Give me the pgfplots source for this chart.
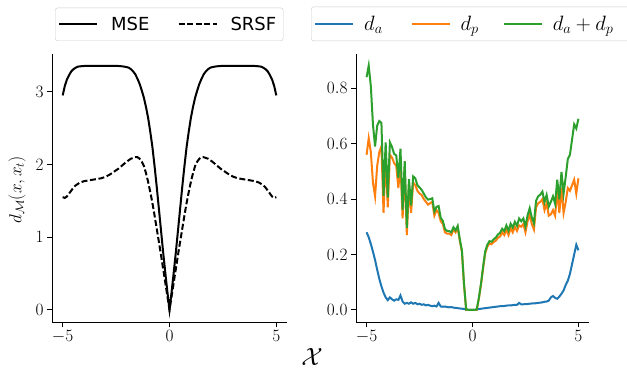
\documentclass[border=0pt]{standalone}
\usepackage{pgfplots}
\pgfplotsset{compat=1.18}
\usepackage{pgfplotstable}
\usepackage{fontspec}
\newfontfamily\dejavu{DejaVu Sans}
\definecolor{tabblue}{HTML}{1F77B4}
\definecolor{taborange}{HTML}{FF7F0E}
\definecolor{tabgreen}{HTML}{2CA02C}

\pgfplotstableread{
x da dp ds
-5.0 0.280 0.560 0.840
-4.9 0.262 0.620 0.882
-4.8 0.238 0.570 0.808
-4.7 0.210 0.460 0.670
-4.6 0.180 0.410 0.590
-4.5 0.145 0.520 0.665
-4.4 0.112 0.570 0.682
-4.3 0.085 0.590 0.675
-4.2 0.062 0.350 0.412
-4.1 0.045 0.560 0.605
-4.0 0.035 0.370 0.405
-3.9 0.045 0.560 0.605
-3.8 0.038 0.550 0.588
-3.7 0.033 0.530 0.563
-3.6 0.038 0.520 0.558
-3.5 0.036 0.440 0.476
-3.4 0.052 0.530 0.582
-3.3 0.030 0.330 0.360
-3.2 0.022 0.515 0.537
-3.1 0.025 0.270 0.295
-3.0 0.022 0.450 0.472
-2.9 0.027 0.350 0.377
-2.8 0.022 0.460 0.482
-2.7 0.025 0.450 0.475
-2.6 0.020 0.430 0.450
-2.5 0.022 0.420 0.442
-2.4 0.018 0.415 0.433
-2.3 0.020 0.400 0.420
-2.2 0.016 0.390 0.406
-2.1 0.018 0.380 0.398
-2.0 0.015 0.385 0.400
-1.9 0.013 0.390 0.403
-1.8 0.015 0.340 0.355
-1.7 0.012 0.360 0.372
-1.6 0.025 0.350 0.375
-1.5 0.012 0.320 0.332
-1.4 0.011 0.310 0.321
-1.3 0.012 0.280 0.292
-1.2 0.010 0.275 0.285
-1.1 0.009 0.275 0.284
-1.0 0.010 0.270 0.280
-0.9 0.008 0.290 0.298
-0.8 0.007 0.280 0.287
-0.7 0.006 0.297 0.303
-0.6 0.005 0.250 0.255
-0.5 0.004 0.210 0.214
-0.4 0.003 0.090 0.093
-0.3 0.001 0.000 0.001
-0.2 0.000 0.000 0.000
-0.1 0.000 0.000 0.000
0.0 0.000 0.000 0.000
0.1 0.000 0.000 0.000
0.2 0.001 0.000 0.001
0.3 0.003 0.040 0.043
0.4 0.004 0.090 0.094
0.5 0.005 0.150 0.155
0.6 0.006 0.205 0.211
0.7 0.007 0.228 0.235
0.8 0.008 0.240 0.248
0.9 0.009 0.237 0.246
1.0 0.010 0.245 0.255
1.1 0.011 0.250 0.261
1.2 0.012 0.260 0.272
1.3 0.013 0.265 0.278
1.4 0.013 0.280 0.293
1.5 0.014 0.270 0.284
1.6 0.015 0.290 0.305
1.7 0.016 0.270 0.286
1.8 0.016 0.295 0.311
1.9 0.017 0.280 0.297
2.0 0.018 0.300 0.318
2.1 0.018 0.285 0.303
2.2 0.025 0.305 0.330
2.3 0.020 0.300 0.320
2.4 0.020 0.310 0.330
2.5 0.021 0.280 0.301
2.6 0.021 0.320 0.341
2.7 0.022 0.345 0.367
2.8 0.023 0.310 0.333
2.9 0.023 0.290 0.313
3.0 0.024 0.370 0.394
3.1 0.025 0.385 0.410
3.2 0.026 0.390 0.416
3.3 0.027 0.400 0.427
3.4 0.029 0.360 0.389
3.5 0.030 0.385 0.415
3.6 0.033 0.340 0.373
3.7 0.045 0.345 0.390
3.8 0.050 0.360 0.410
3.9 0.043 0.340 0.383
4.0 0.040 0.430 0.470
4.1 0.048 0.350 0.398
4.2 0.058 0.440 0.498
4.3 0.070 0.350 0.420
4.4 0.090 0.390 0.480
4.5 0.105 0.440 0.545
4.6 0.130 0.430 0.560
4.7 0.165 0.450 0.615
4.8 0.200 0.470 0.670
4.9 0.235 0.420 0.655
5.0 0.215 0.475 0.690
}\rightdata

\pgfplotsset{
  mystyle/.style={
    scale only axis, height=268pt,
    axis x line*=bottom, axis y line*=left,
    axis line style={line width=0.8pt, black, -},
    tick align=outside, major tick length=5pt,
    tick style={line width=0.8pt, black},
    tick label style={font=\fontsize{18}{21}\selectfont},
    xmin=-5.5, xmax=5.5, xtick={-5,0,5},
    legend cell align=left,
    legend image code/.code={\draw[##1] (0pt,0pt) -- (38pt,0pt);},
    legend style={draw=black!20, rounded corners=2.5pt, fill=white,
      nodes={inner sep=2pt}, column sep=0pt,
      font=\fontsize{18}{20}\selectfont, inner xsep=3pt, inner ysep=7pt},
  }
}

\begin{document}
\begin{tikzpicture}
\useasboundingbox (0,0) rectangle (627pt,373pt);
\begin{axis}[mystyle, width=235pt, at={(52pt,51pt)}, anchor=south west,
  ymin=-0.1675, ymax=3.52, ytick={0,1,2,3},
  legend columns=2,
  legend style={at={(0.01277,1.0485)}, anchor=south west}]
\addplot[black, line width=2pt] coordinates {
(-5.0,2.95) (-4.9,3.08) (-4.8,3.17) (-4.7,3.23) (-4.6,3.28) (-4.5,3.31)
(-4.4,3.33) (-4.3,3.345) (-4.2,3.35) (-4.0,3.355) (-3.0,3.355) (-2.4,3.355)
(-2.2,3.35) (-2.0,3.34) (-1.9,3.33) (-1.8,3.31) (-1.7,3.28) (-1.6,3.24)
(-1.5,3.18) (-1.4,3.11) (-1.3,3.02) (-1.2,2.92) (-1.1,2.79) (-1.0,2.64)
(-0.9,2.45) (-0.8,2.24) (-0.7,1.98) (-0.6,1.70) (-0.5,1.40) (-0.4,1.10)
(-0.3,0.80) (-0.2,0.52) (-0.1,0.25) (0,0)
(0.1,0.25) (0.2,0.52) (0.3,0.80) (0.4,1.10) (0.5,1.40) (0.6,1.70)
(0.7,1.98) (0.8,2.24) (0.9,2.45) (1.0,2.64) (1.1,2.79) (1.2,2.92)
(1.3,3.02) (1.4,3.11) (1.5,3.18) (1.6,3.24) (1.7,3.28) (1.8,3.31)
(1.9,3.33) (2.0,3.34) (2.2,3.35) (2.4,3.355) (3.0,3.355) (4.0,3.355)
(4.2,3.35) (4.3,3.345) (4.4,3.33) (4.5,3.31) (4.6,3.28) (4.7,3.23)
(4.8,3.17) (4.9,3.08) (5.0,2.95)
};
\addlegendentry{\kern 11pt\dejavu MSE\kern 26pt}
\addplot[black, line width=2pt, dash pattern=on 6pt off 2.6pt] coordinates {
(-5.0,1.55) (-4.9,1.54) (-4.8,1.56) (-4.7,1.60) (-4.6,1.64) (-4.5,1.68)
(-4.4,1.71) (-4.2,1.75) (-4.0,1.77) (-3.8,1.78) (-3.6,1.79) (-3.4,1.80)
(-3.2,1.81) (-3.0,1.83) (-2.8,1.86) (-2.6,1.90) (-2.4,1.94) (-2.2,1.99)
(-2.0,2.04) (-1.8,2.08) (-1.6,2.10) (-1.5,2.10) (-1.4,2.08) (-1.3,2.04)
(-1.2,1.98) (-1.1,1.88) (-1.0,1.76) (-0.9,1.62) (-0.8,1.47) (-0.7,1.30)
(-0.6,1.12) (-0.5,0.94) (-0.4,0.76) (-0.3,0.57) (-0.2,0.38) (-0.1,0.19) (0,0)
(0.1,0.19) (0.2,0.38) (0.3,0.57) (0.4,0.76) (0.5,0.94) (0.6,1.12)
(0.7,1.30) (0.8,1.47) (0.9,1.62) (1.0,1.76) (1.1,1.88) (1.2,1.98)
(1.3,2.04) (1.4,2.08) (1.5,2.10) (1.6,2.10) (1.8,2.08) (2.0,2.04)
(2.2,1.99) (2.4,1.94) (2.6,1.90) (2.8,1.86) (3.0,1.83) (3.2,1.81)
(3.4,1.80) (3.6,1.79) (3.8,1.78) (4.0,1.77) (4.2,1.75) (4.4,1.71)
(4.5,1.68) (4.6,1.64) (4.7,1.60) (4.8,1.56) (4.9,1.54) (5.0,1.55)
};
\addlegendentry{\kern 11pt\dejavu SRSF\kern 2pt}
\end{axis}

\begin{axis}[mystyle, width=233pt, at={(356pt,51pt)}, anchor=south west,
  ymin=-0.044, ymax=0.924, ytick={0,0.2,0.4,0.6,0.8},
  yticklabel style={/pgf/number format/.cd, fixed, fixed zerofill, precision=1},
  legend columns=3,
  legend style={at={(-0.193,1.0485)}, anchor=south west, font=\fontsize{20}{22}\selectfont}]
\addplot[tabblue, line width=2pt] table[x=x, y=da] {\rightdata};
\addlegendentry{\kern 8pt$d_a$\kern 26pt}
\addplot[taborange, line width=2pt] table[x=x, y=dp] {\rightdata};
\addlegendentry{\kern 8pt$d_p$\kern 22pt}
\addplot[tabgreen, line width=2pt] table[x=x, y=ds] {\rightdata};
\addlegendentry{\kern 8pt$d_a+d_p$\kern 20pt}
\end{axis}

\node[rotate=90, font=\fontsize{18}{22}\selectfont] at (17pt,183pt) {$d_{\mathcal{M}}(x,x_t)$};
\node[font=\fontsize{24}{28}\selectfont] at (312pt,16pt) {$\mathcal{X}$};
\end{tikzpicture}
\end{document}
